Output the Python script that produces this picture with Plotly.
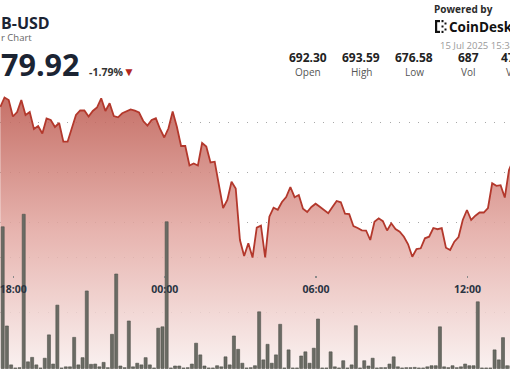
import pandas as pd
import plotly.graph_objects as go

W, H = 510, 369

# ---------------- data ----------------
price = [
    691.50, 692.45, 692.20, 690.55, 691.00, 692.20, 690.70, 691.00, 689.30, 689.60,
    688.85, 690.35, 690.20, 689.50, 689.90, 688.03, 688.03, 689.37, 690.70, 691.15,
    691.15, 690.55, 691.10, 691.45, 692.37, 691.10, 691.87, 690.60, 690.47, 690.87,
    691.10, 691.25, 691.13, 690.95, 690.10, 689.65, 690.20, 690.37, 689.30, 688.45,
    689.37, 691.05, 689.53, 687.60, 687.60, 685.65, 685.85, 685.65, 687.90, 687.55,
    685.95, 686.03, 683.70, 681.40, 682.20, 684.03, 683.35, 678.20, 676.60, 677.87,
    676.45, 679.43, 679.63, 676.45, 680.53, 681.43, 681.23, 682.00, 682.50, 683.50,
    682.48, 682.70, 681.33, 681.00, 681.50, 681.83, 681.53, 681.20, 680.87, 681.50,
    682.10, 681.97, 680.83, 680.78, 679.58, 679.40, 679.17, 679.15, 678.20, 680.03,
    680.37, 680.08, 679.15, 679.87, 679.30, 679.03, 678.53, 677.77, 676.53, 677.30,
    677.37, 678.37, 678.53, 679.40, 679.28, 679.38, 677.43, 677.20, 678.03, 678.50,
    680.20, 681.20, 680.20, 680.63, 680.95, 680.95, 681.40, 683.87, 683.62, 683.68,
    682.45, 685.20, 686.20,
]

volume = [
    51.0, 15.3, 1.3, 0.2, 0.3, 55.5, 2.4, 4.0, 1.3, 0.2,
    3.7, 12.1, 1.6, 22.8, 0.2, 0.6, 0.6, 11.2, 1.3, 3.9,
    27.9, 1.5, 1.6, 0.6, 2.2, 0.3, 12.3, 34.0, 0.9, 0.3,
    17.1, 0.6, 1.9, 1.3, 3.9, 1.3, 0.2, 14.5, 15.0, 52.8,
    0.2, 0.9, 0.9, 0.2, 0.3, 1.6, 9.1, 4.9, 0.9, 0.2,
    0.2, 1.0, 0.6, 4.2, 1.3, 11.7, 6.9, 1.9, 0.2, 0.3,
    1.0, 20.4, 3.1, 8.7, 1.9, 4.9, 15.9, 0.2, 6.7, 0.2,
    0.2, 4.5, 6.0, 1.9, 7.3, 17.8, 0.2, 0.2, 6.0, 0.6,
    0.2, 2.8, 0.2, 1.3, 15.4, 0.2, 2.8, 0.9, 3.7, 0.2,
    0.3, 0.3, 1.6, 4.2, 0.6, 0.2, 0.3, 0.3, 0.4, 0.2,
    0.2, 0.6, 1.0, 1.0, 15.0, 0.6, 0.3, 1.0, 0.3, 0.6,
    1.6, 1.0, 1.0, 24.0, 0.2, 0.2, 0.2, 6.7, 3.1, 11.1,
    1.0, 1.0, 0.5,
]

start_time = "2025-07-14 17:29:00"
times = pd.date_range(start_time, periods=len(price), freq="10min")
bar_times = pd.date_range(start_time, periods=len(volume), freq="10min") + pd.Timedelta(minutes=5.7)

tick_times = ["2025-07-14 18:00", "2025-07-15 00:00", "2025-07-15 06:00", "2025-07-15 12:00"]
tick_labels = ["18:00", "00:00", "06:00", "12:00"]

x_range = ["2025-07-14 17:28:17", "2025-07-15 13:41:23"]
price_range = [665.3, 702.2]
vol_range = [-0.18, 132.6]
price_grid = [680, 685, 690]
vol_grid = [20, 40]

stat_values = ["692.30", "693.59", "676.58", "687"]
stat_labels = ["Open", "High", "Low", "Vol"]

# ---------------- helpers ----------------
def px(x):
    return x / W


def py(y):
    return 1 - y / H


FONT = "Open Sans"
DARK = "#1b2433"

fig = go.Figure()

fig.add_trace(go.Scatter(
    x=times, y=price, mode="lines",
    line=dict(color="#b3382c", width=1.8),
    fill="tozeroy",
    fillgradient=dict(
        type="vertical",
        start=665.3, stop=692.7,
        colorscale=[[0, "rgba(249,239,238,0.86)"],
                    [0.5, "rgba(227,168,162,0.86)"],
                    [1, "rgba(188,88,78,0.86)"]],
    ),
    hoverinfo="skip", showlegend=False,
))

fig.add_trace(go.Bar(
    x=bar_times, y=volume, yaxis="y2",
    width=432000,
    marker=dict(color="#6a6b64", line=dict(color="#4f504a", width=0.6)),
    hoverinfo="skip", showlegend=False,
))

grid_style = dict(showgrid=True, gridcolor="#a8a8a8", gridwidth=1, griddash="1px,8.5px",
                  showticklabels=False, ticks="", zeroline=False, showline=False, fixedrange=True)

fig.update_layout(
    width=W, height=H,
    margin=dict(l=0, r=0, t=0, b=0, autoexpand=False),
    paper_bgcolor="white", plot_bgcolor="white",
    font=dict(family=FONT, color=DARK),
    bargap=0,
    hovermode=False,
    xaxis=dict(
        type="date", range=x_range, domain=[0, 1],
        anchor="free", position=py(275),
        showgrid=False, zeroline=False, showline=False,
        tickvals=tick_times, ticktext=tick_labels,
        ticks="outside", ticklen=2, tickwidth=1.5, tickcolor="#8a8a8a",
        tickfont=dict(family=FONT, size=10.5, color="#2a3442", weight="bold"),
        ticklabelstandoff=2, ticklabeloverflow="allow",
        automargin=False,
        fixedrange=True,
    ),
    yaxis=dict(range=price_range, domain=[0, 1], tickvals=price_grid, **grid_style),
    yaxis2=dict(range=vol_range, overlaying="y", side="right", tickvals=vol_grid, **grid_style),
)

ann = []


def text(s, x, y, size, color=DARK, anchor="left", weight="normal"):
    ann.append(dict(text=s, x=px(x), y=py(y), xref="paper", yref="paper",
                    xanchor=anchor, yanchor="middle", showarrow=False, borderpad=0,
                    font=dict(family=FONT, size=size, color=color, weight=weight)))


# left header
text("B-USD", 0, 23.5, 16, DARK, "left", "bold")
text("r Chart", 0, 37.5, 9.5, "#666666", "left")
text("79.92", -0.5, 63.5, 30.5, DARK, "left", "bold")
text("-1.79%", 87.5, 72, 10.5, "#333333", "left", "bold")
text("▼", 121.5, 72, 12, "#b3261e", "left")

# right header
text("Powered by", 433, 9.5, 10, "#2b2b2b", "left", "bold")
text("CoinDesk", 448, 26.5, 13.5, "#111111", "left", "bold")
text("15 Jul 2025 15:34", 439, 45, 9.5, "#9a9a9a", "left")

stat_x = [308, 361, 414, 468]
for v, lab, sx in zip(stat_values, stat_labels, stat_x):
    text(v, sx, 58, 12, "#222222", "center", "bold")
    text(lab, sx, 71.5, 10, "#555555", "center")
text("47", 499.5, 58, 12, "#222222", "left", "bold")
text("V", 504.5, 71.5, 10, "#555555", "left")

fig.update_layout(annotations=ann)

# CoinDesk logo glyph (small pixel bracket)
logo_rects = [
    (435, 20, 437.2, 33), (435, 20, 440, 22.2), (435, 30.8, 440, 33),
    (441.5, 20, 443.5, 22.2), (441.5, 30.8, 443.5, 33),
    (441.5, 25.5, 443.5, 27.5),
    (444.5, 22.5, 446.5, 24.5), (444.5, 28.5, 446.5, 30.5),
]
shapes = []
for x0, y0, x1, y1 in logo_rects:
    shapes.append(dict(type="rect", xref="paper", yref="paper",
                       x0=px(x0), x1=px(x1), y0=py(y1), y1=py(y0),
                       fillcolor="#111111", line=dict(width=0)))
fig.update_layout(shapes=shapes)

fig.write_html(
    "out.html",
    config={"displayModeBar": False, "staticPlot": True},
    post_script="document.body.style.margin='0';document.body.style.overflow='hidden';",
)
